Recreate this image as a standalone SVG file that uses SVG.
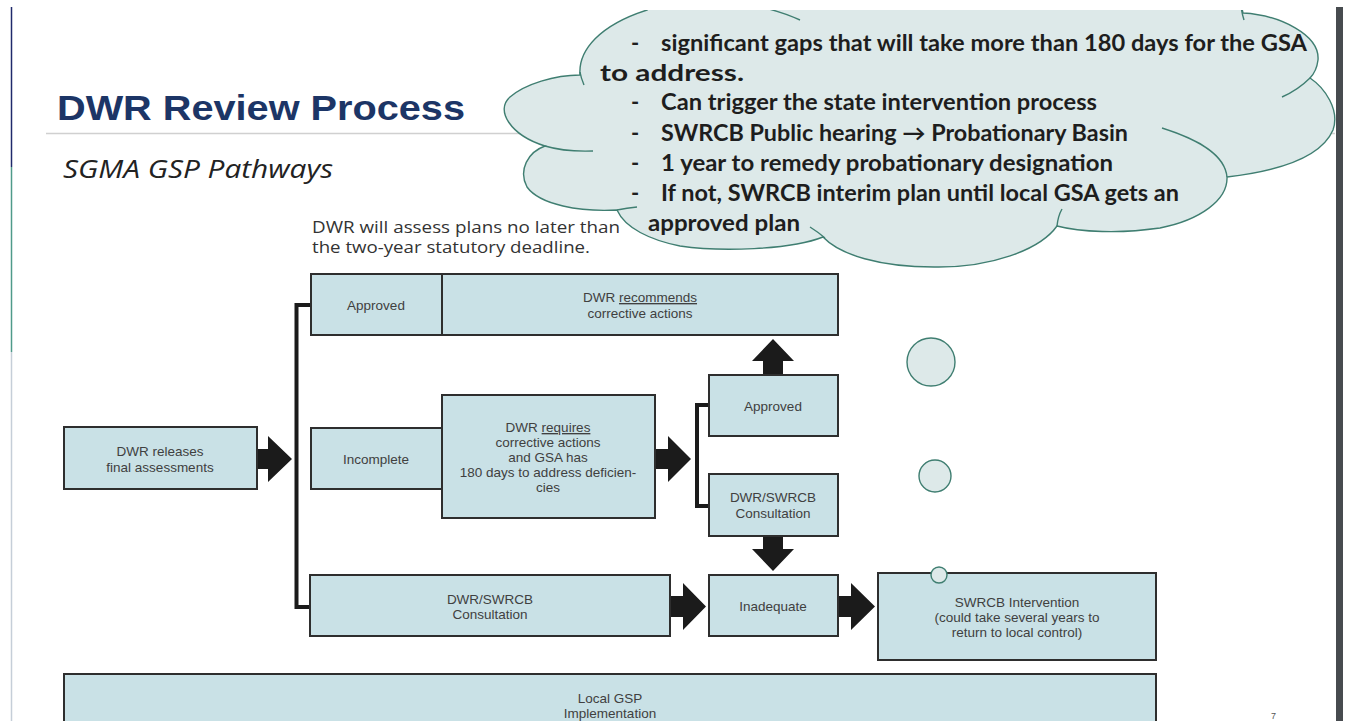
<svg xmlns="http://www.w3.org/2000/svg" width="1348" height="721" viewBox="0 0 1348 721">
<style>
.box{fill:#c9e1e6;stroke:#2e2e2e;stroke-width:2}
.bt{font-family:"Liberation Sans",Arial,sans-serif;font-size:13.5px;fill:#404040;text-anchor:middle}
.arr{fill:#1b1b1b}
.brk{fill:none;stroke:#1b1b1b;stroke-width:4}
.cl{fill:#dde9e9;stroke:#3f7e71;stroke-width:1.4}
.cr{fill:none;stroke:#3f7e71;stroke-width:1.4}
.ct{font-family:Lato,"Liberation Sans",sans-serif;font-weight:bold;font-size:22px;fill:#1e1e1e}
.bub{fill:#dde9e9;stroke:#3f7e71;stroke-width:1.4}
</style>
<defs>
<clipPath id="clipTop"><rect x="0" y="10" width="1348" height="711"/></clipPath>
</defs>
<rect x="0" y="0" width="1348" height="721" fill="#ffffff"/>
<g id="slide-frame">
<line x1="11.5" y1="7" x2="11.5" y2="167" stroke="#1f2a6b" stroke-width="1.5"/>
<line x1="11.5" y1="167" x2="11.5" y2="352" stroke="#4f9a8a" stroke-width="1.5"/>
<line x1="11.5" y1="352" x2="11.5" y2="721" stroke="#c5ced8" stroke-width="1.5"/>
<rect x="1336" y="7" width="7" height="714" fill="#474b4f"/>
<line x1="46" y1="133.5" x2="1335" y2="133.5" stroke="#d0d0d0" stroke-width="1.5"/>
</g>
<g id="title">
<text x="57" y="120" font-family="Liberation Sans,Arial,sans-serif" font-weight="bold" font-size="35" fill="#1c3566" textLength="408" lengthAdjust="spacingAndGlyphs">DWR Review Process</text>
<text x="63" y="178" font-family="Open Sans,Noto Sans,sans-serif" font-style="italic" font-size="26" fill="#222" textLength="270" lengthAdjust="spacingAndGlyphs">SGMA GSP Pathways</text>
<text x="312" y="233" font-family="Open Sans,Noto Sans,sans-serif" font-size="16" fill="#333" textLength="308" lengthAdjust="spacingAndGlyphs">DWR will assess plans no later than</text>
<text x="312" y="253" font-family="Open Sans,Noto Sans,sans-serif" font-size="16" fill="#333" textLength="278" lengthAdjust="spacingAndGlyphs">the two-year statutory deadline.</text>
</g>
<g id="connectors">
<path class="brk" d="M312,305 H296.5 V607 H312"/>
<path class="brk" d="M710,405 H697 V506 H710"/>
<polygon class="arr" points="257,449 268,449 268,436 292,459 268,482 268,469 257,469"/>
<polygon class="arr" points="655,449 668,449 668,436 691,459 668,482 668,469 655,469"/>
<polygon class="arr" points="763,375 763,361 752,361 773,339 794,361 783,361 783,375"/>
<polygon class="arr" points="763,537 763,549 752,549 773,571 794,549 783,549 783,537"/>
<polygon class="arr" points="670,596 683,596 683,583 706,606.5 683,630 683,617 670,617"/>
<polygon class="arr" points="839,596 851,596 851,583 875,606.5 851,630 851,617 839,617"/>
</g>
<g id="node-approved-top">
<rect class="box" x="311" y="274" width="527" height="61"/>
<line x1="442" y1="274" x2="442" y2="335" stroke="#2e2e2e" stroke-width="2"/>
<text class="bt" x="376" y="310">Approved</text>
<text class="bt" x="640" y="302">DWR <tspan text-decoration="underline">recommends</tspan></text>
<text class="bt" x="640" y="318">corrective actions</text>
</g>
<g id="node-releases">
<rect class="box" x="64" y="427" width="193" height="62"/>
<text class="bt" x="160" y="456">DWR releases</text>
<text class="bt" x="160" y="472">final assessments</text>
</g>
<g id="node-incomplete">
<rect class="box" x="311" y="428" width="131" height="61"/>
<text class="bt" x="376" y="464">Incomplete</text>
</g>
<g id="node-requires">
<rect class="box" x="442" y="395" width="213" height="123"/>
<text class="bt" x="548" y="432">DWR <tspan text-decoration="underline">requires</tspan></text>
<text class="bt" x="548" y="447">corrective actions</text>
<text class="bt" x="548" y="462">and GSA has</text>
<text class="bt" x="548" y="477">180 days to address deficien-</text>
<text class="bt" x="548" y="492">cies</text>
</g>
<g id="node-approved-2">
<rect class="box" x="709" y="375" width="129" height="61"/>
<text class="bt" x="773" y="411">Approved</text>
</g>
<g id="node-consult-2">
<rect class="box" x="709" y="474" width="129" height="62"/>
<text class="bt" x="773" y="502">DWR/SWRCB</text>
<text class="bt" x="773" y="518">Consultation</text>
</g>
<g id="node-consult-3">
<rect class="box" x="310" y="575" width="360" height="61"/>
<text class="bt" x="490" y="604">DWR/SWRCB</text>
<text class="bt" x="490" y="619">Consultation</text>
</g>
<g id="node-inadequate">
<rect class="box" x="709" y="575" width="129" height="61"/>
<text class="bt" x="773" y="611">Inadequate</text>
</g>
<g id="node-intervention">
<rect class="box" x="878" y="573" width="278" height="87"/>
<text class="bt" x="1017" y="607">SWRCB Intervention</text>
<text class="bt" x="1017" y="622">(could take several years to</text>
<text class="bt" x="1017" y="637">return to local control)</text>
</g>
<g id="node-local">
<rect class="box" x="64" y="674" width="1092" height="60"/>
<text class="bt" x="610" y="703">Local GSP</text>
<text class="bt" x="610" y="718">Implementation</text>
</g>
<g id="thought-bubbles">
<circle class="bub" cx="931" cy="362" r="24"/>
<circle class="bub" cx="935" cy="476" r="16"/>
<circle class="bub" cx="939" cy="575" r="8"/>
</g>
<g id="cloud" clip-path="url(#clipTop)">
<path class="cl" d="M580,75 C578,50 600,25 647,10 L660,0 L1240,0 L1243,13 C1280,15 1320,35 1318,60 C1317,68 1314,74 1310,78 C1325,88 1340,110 1333,130 C1320,160 1270,172 1227,177 C1228,200 1200,220 1160,228 C1120,234 1080,232 1057,226 C1040,250 990,268 934,267 C880,267 840,255 823,237 C790,250 720,252 680,246 C650,240 625,228 617,210 C580,212 540,205 527,187 C518,170 528,152 545,146 C510,135 495,110 510,97 C525,84 555,75 580,75 Z"/>
<path class="cr" d="M580,72 Q581,78 584,85"/>
<path class="cr" d="M765,8 Q785,13 800,20"/>
<path class="cr" d="M1241,6 Q1242,14 1244,20"/>
<path class="cr" d="M1310,78 Q1298,90 1282,97"/>
<path class="cr" d="M1227,177 C1225,155 1200,140 1162,128"/>
<path class="cr" d="M1057,226 Q1058,216 1062,209"/>
<path class="cr" d="M810,227 Q818,232 825,238"/>
<path class="cr" d="M617,210 Q627,208 637,207"/>
<path class="cr" d="M545,146 Q565,152 593,151"/>
<text class="ct" x="631" y="51">-</text>
<text class="ct" x="661" y="51" textLength="646" lengthAdjust="spacingAndGlyphs">significant gaps that will take more than 180 days for the GSA</text>
<text class="ct" x="600" y="81" textLength="144" lengthAdjust="spacingAndGlyphs">to address.</text>
<text class="ct" x="631" y="110">-</text>
<text class="ct" x="661" y="110" textLength="436" lengthAdjust="spacingAndGlyphs">Can trigger the state intervention process</text>
<text class="ct" x="631" y="140.5">-</text>
<text class="ct" x="661" y="140.5" textLength="467" lengthAdjust="spacingAndGlyphs">SWRCB Public hearing → Probationary Basin</text>
<text class="ct" x="631" y="170.5">-</text>
<text class="ct" x="661" y="170.5" textLength="452" lengthAdjust="spacingAndGlyphs">1 year to remedy probationary designation</text>
<text class="ct" x="631" y="200.5">-</text>
<text class="ct" x="661" y="200.5" textLength="518" lengthAdjust="spacingAndGlyphs">If not, SWRCB interim plan until local GSA gets an</text>
<text class="ct" x="648" y="231" textLength="152" lengthAdjust="spacingAndGlyphs">approved plan</text>
</g>
<text x="1271" y="719" font-family="Liberation Sans,Arial,sans-serif" font-size="9" fill="#555">7</text>
</svg>
